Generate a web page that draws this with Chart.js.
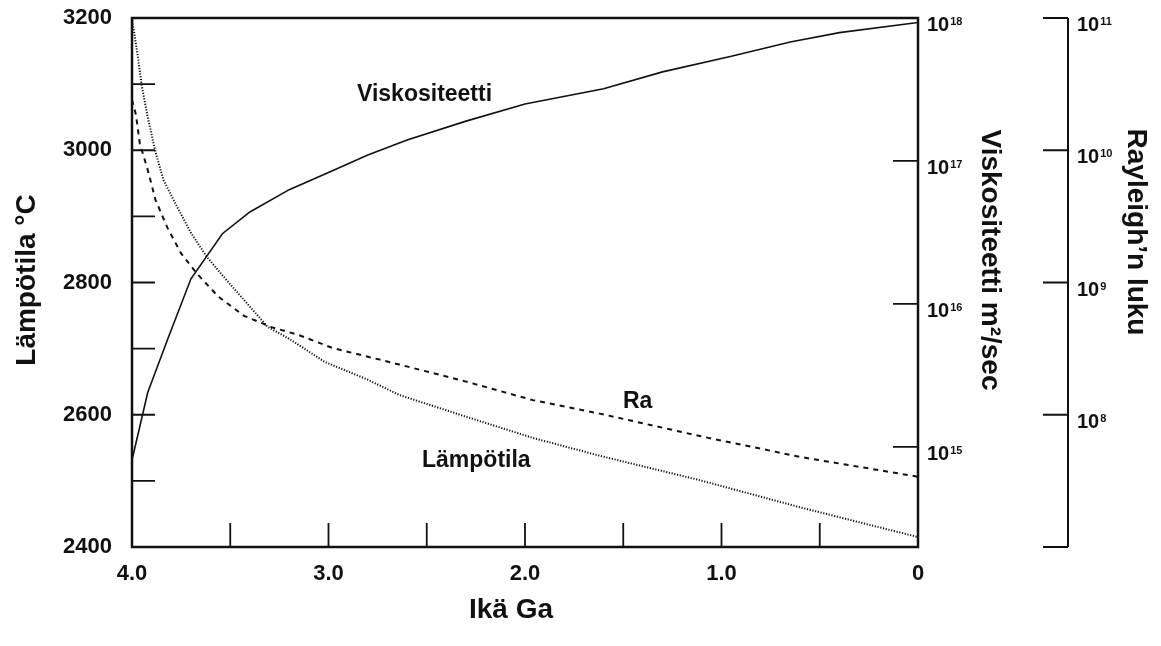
<!DOCTYPE html>
<html>
<head>
<meta charset="utf-8">
<script src="https://cdn.jsdelivr.net/npm/chart.js@4.4.1/dist/chart.umd.min.js"></script>
<style>
html, body { margin: 0; padding: 0; background: #fff; }
#wrap { width: 1161px; height: 646px; position: relative; }
</style>
</head>
<body>
<div id="wrap"><canvas id="chart"></canvas></div>
<script>
// ages in Ga
const viscAge = [4.0, 3.92, 3.82, 3.7, 3.54, 3.4, 3.2, 3.0, 2.8, 2.6, 2.3, 2.0, 1.6, 1.3, 0.95, 0.65, 0.4, 0];
const viscValues = [8.1e14, 2.4e15, 5.6e15, 1.5e16, 3.1e16, 4.4e16, 6.3e16, 8.3e16, 1.1e17, 1.4e17, 1.9e17, 2.5e17, 3.2e17, 4.2e17, 5.4e17, 6.8e17, 7.9e17, 9.3e17];

const tempAge = [4.0, 3.97, 3.95, 3.92, 3.88, 3.84, 3.78, 3.7, 3.62, 3.52, 3.44, 3.31, 3.19, 3.02, 2.8, 2.64, 2.3, 1.96, 1.62, 1.11, 0.6, 0];
const tempValues = [3200, 3141, 3097, 3050, 2997, 2955, 2920, 2875, 2839, 2804, 2777, 2733, 2713, 2680, 2653, 2630, 2597, 2565, 2538, 2501, 2460, 2415];

const raAge = [4.0, 3.98, 3.96, 3.92, 3.88, 3.82, 3.75, 3.67, 3.56, 3.43, 3.29, 3.15, 2.98, 2.64, 2.3, 1.96, 1.62, 1.11, 0.6, 0];
const raValues = [2.4e10, 1.86e10, 1.12e10, 7.1e9, 4.2e9, 2.6e9, 1.66e9, 1.17e9, 7.8e8, 5.6e8, 4.6e8, 4.0e8, 3.2e8, 2.4e8, 1.78e8, 1.29e8, 1.02e8, 6.9e7, 4.8e7, 3.4e7];

// axis ticks and labels
const tempLabels = [2400, 2600, 2800, 3000, 3200];
const tempMinor = [2500, 2600, 2700, 2800, 2900, 3000, 3100];
const ageLabels = [4, 3, 2, 1, 0];
const ageMinor = [3.5, 3.0, 2.5, 2.0, 1.5, 1.0, 0.5];
const viscExponents = [15, 16, 17, 18];
const raTickExponents = [7, 8, 9, 10, 11];
const raExponents = [8, 9, 10, 11];

const FONT = "'Liberation Sans', Arial, Helvetica, sans-serif";
const INK = '#111';

function zip(xs, ys) {
    return xs.map((x, i) => ({x: x, y: ys[i]}));
}

function drawSuper(ctx, x, y, exp) {
    ctx.textAlign = 'left';
    ctx.textBaseline = 'alphabetic';
    ctx.font = 'bold 20px ' + FONT;
    ctx.fillText('10', x, y + 13);
    const w = ctx.measureText('10').width;
    ctx.font = 'bold 11px ' + FONT;
    ctx.fillText(String(exp), x + w + 1, y + 7);
}

// fixed size, no extra room for overhanging tick labels
function fixSize(w, h) {
    return s => {
        if (w) s.width = w;
        if (h) s.height = h;
        s.paddingTop = 0; s.paddingBottom = 0;
        s.paddingLeft = 0; s.paddingRight = 0;
    };
}

// quiet scale: takes room in the layout but draws nothing itself
function hiddenScale(extra) {
    return Object.assign({
        grid: { display: false },
        border: { display: false },
        ticks: { display: false }
    }, extra);
}

const extras = {
    id: 'extras',
    afterDraw(chart) {
        const {ctx, chartArea: a} = chart;
        const sx = chart.scales.x, sT = chart.scales.y, sV = chart.scales.visc, sR = chart.scales.ra;
        const raX = sR.left;
        ctx.save();
        ctx.strokeStyle = INK;
        ctx.fillStyle = INK;

        // frame
        ctx.lineWidth = 2.5;
        ctx.strokeRect(a.left, a.top, a.right - a.left, a.bottom - a.top);

        // inward ticks
        ctx.lineWidth = 1.8;
        ctx.beginPath();
        tempMinor.forEach(v => {
            const py = sT.getPixelForValue(v);
            ctx.moveTo(a.left, py); ctx.lineTo(a.left + 23, py);
        });
        ageMinor.forEach(v => {
            const px = sx.getPixelForValue(v);
            ctx.moveTo(px, a.bottom); ctx.lineTo(px, a.bottom - 24);
        });
        viscExponents.forEach(e => {
            const py = sV.getPixelForValue(Math.pow(10, e));
            ctx.moveTo(a.right, py); ctx.lineTo(a.right - 25, py);
        });
        ctx.stroke();

        // Rayleigh axis
        ctx.lineWidth = 2;
        ctx.beginPath();
        ctx.moveTo(raX, sR.top); ctx.lineTo(raX, sR.bottom);
        raTickExponents.forEach(e => {
            const py = sR.getPixelForValue(Math.pow(10, e));
            ctx.moveTo(raX - 25, py); ctx.lineTo(raX, py);
        });
        ctx.stroke();

        // log labels
        viscExponents.forEach(e => drawSuper(ctx, a.right + 9, sV.getPixelForValue(Math.pow(10, e)), e));
        raExponents.forEach(e => drawSuper(ctx, raX + 9, sR.getPixelForValue(Math.pow(10, e)), e));

        // curve labels
        ctx.font = 'bold 23px ' + FONT;
        ctx.textAlign = 'left';
        ctx.textBaseline = 'alphabetic';
        ctx.fillText('Viskositeetti', 357, 101);
        ctx.fillText('Ra', 623, 408);
        ctx.fillText('Lämpötila', 422, 467);

        // axis titles
        ctx.font = 'bold 28px ' + FONT;
        ctx.textAlign = 'center';
        ctx.fillText('Ikä Ga', 511, 618);

        ctx.save();
        ctx.translate(35, 280);
        ctx.rotate(-Math.PI / 2);
        ctx.fillText('Lämpötila °C', 0, 0);
        ctx.restore();

        ctx.save();
        ctx.translate(982, 260);
        ctx.rotate(Math.PI / 2);
        ctx.fillText('Viskositeetti m²/sec', 0, 0);
        ctx.restore();

        ctx.save();
        ctx.translate(1128, 232);
        ctx.rotate(Math.PI / 2);
        ctx.fillText('Rayleigh’n luku', 0, 0);
        ctx.restore();

        ctx.restore();
    }
};

new Chart(document.getElementById('chart'), {
    type: 'line',
    data: {
        datasets: [{
            label: 'Viskositeetti',
            data: zip(viscAge, viscValues),
            yAxisID: 'visc',
            borderColor: INK,
            borderWidth: 1.6
        }, {
            label: 'Lämpötila',
            data: zip(tempAge, tempValues),
            yAxisID: 'y',
            borderColor: INK,
            borderWidth: 2,
            borderDash: [1.2, 1.6]
        }, {
            label: 'Ra',
            data: zip(raAge, raValues),
            yAxisID: 'ra',
            borderColor: INK,
            borderWidth: 2,
            borderDash: [5, 5]
        }]
    },
    options: {
        responsive: true,
        maintainAspectRatio: false,
        animation: false,
        elements: {
            point: { radius: 0 },
            line: { tension: 0, fill: false }
        },
        layout: { padding: { top: 18, right: 0, left: 0, bottom: 0 } },
        plugins: {
            legend: { display: false },
            tooltip: { enabled: false }
        },
        scales: {
            x: {
                type: 'linear',
                reverse: true,
                min: 0,
                max: 4,
                grid: { display: false },
                border: { display: false },
                ticks: {
                    stepSize: 0.5,
                    autoSkip: false,
                    maxRotation: 0,
                    padding: 6,
                    color: INK,
                    font: { family: FONT, size: 22, weight: 'bold' },
                    callback: v => ageLabels.includes(v) ? (v === 0 ? '0' : v.toFixed(1)) : ''
                },
                afterFit: fixSize(0, 99)
            },
            y: {
                position: 'left',
                min: 2400,
                max: 3200,
                grid: { display: false },
                border: { display: false },
                ticks: {
                    stepSize: 100,
                    autoSkip: false,
                    padding: 12,
                    color: INK,
                    font: { family: FONT, size: 22, weight: 'bold' },
                    callback: v => tempLabels.includes(v) ? String(v) : ''
                },
                afterFit: fixSize(132, 0)
            },
            visc: hiddenScale({
                type: 'logarithmic',
                position: 'right',
                weight: 0,
                min: Math.pow(10, 14.3),
                max: 1e18,
                afterFit: fixSize(150, 0)
            }),
            ra: hiddenScale({
                type: 'logarithmic',
                position: 'right',
                weight: 1,
                min: 1e7,
                max: 1e11,
                afterFit: fixSize(93, 0)
            })
        }
    },
    plugins: [extras]
});
</script>
</body>
</html>
